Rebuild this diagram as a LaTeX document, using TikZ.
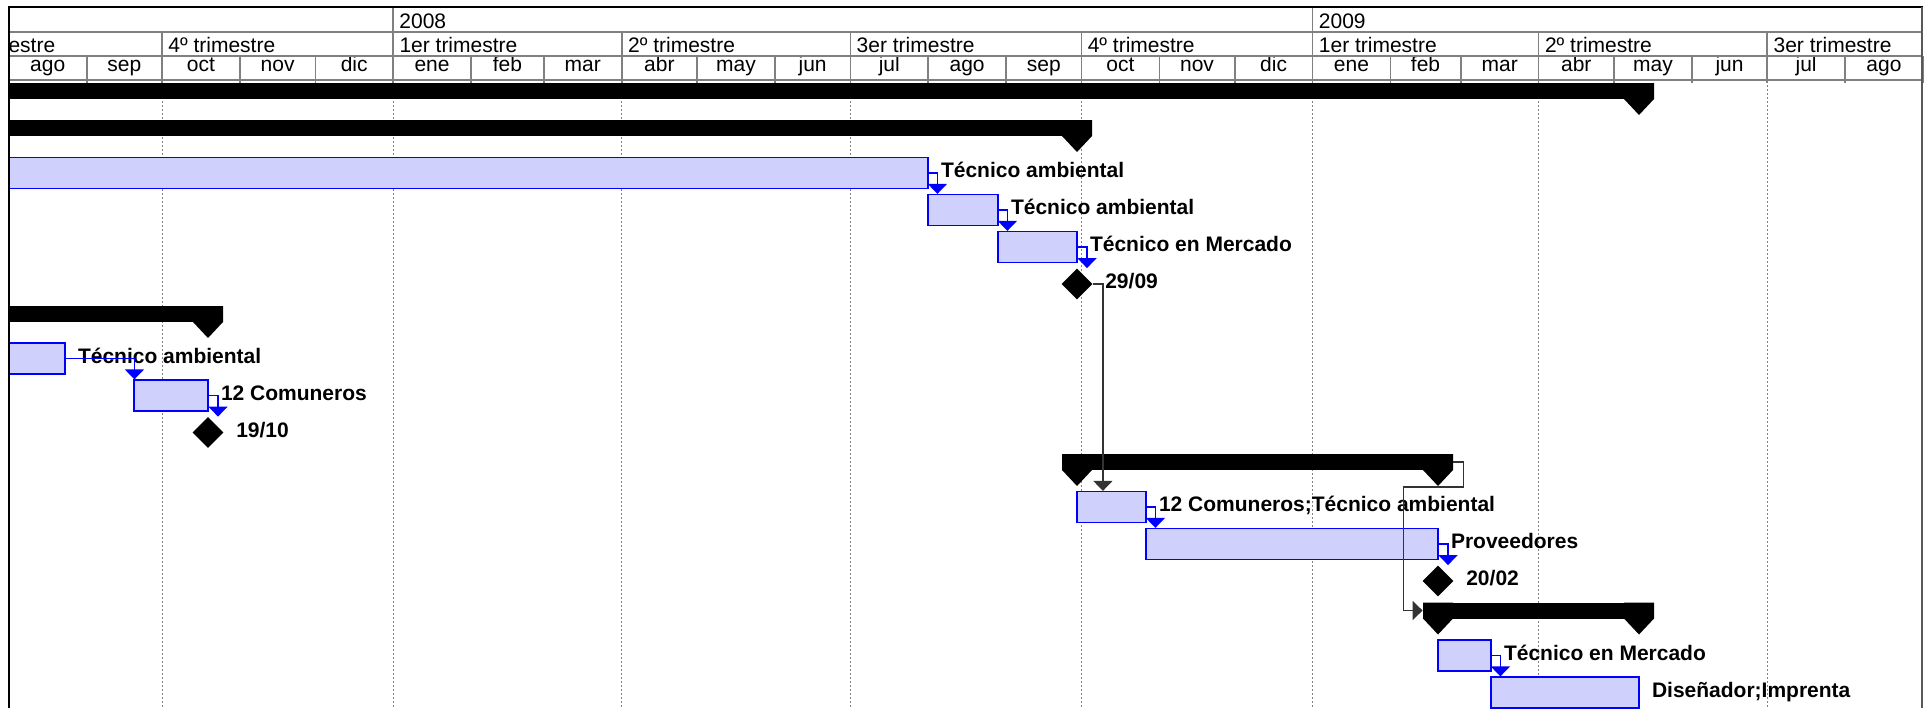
\documentclass[tikz,border=0pt]{standalone}
\usepackage{fontspec}
\setmainfont{Liberation Sans}
\usetikzlibrary{arrows.meta,shapes.geometric,fit}
\definecolor{gridgray}{gray}{.5}
\definecolor{taskblue}{RGB}{0,0,255}
\definecolor{taskfill}{RGB}{208,208,252}

\begin{document}
\begin{tikzpicture}[x=0.5pt,y=-0.5pt,
    every node/.style={font=\fontsize{10.5}{12}\selectfont},
    hdr/.style={inner sep=0pt,anchor=base west},
    mon/.style={inner sep=0pt,anchor=base},
    hline/.style={draw=gridgray,line width=0.8pt},
    task/.style={draw=taskblue,fill=taskfill,line width=0.6pt,inner sep=0pt},
    sumbar/.style={fill=black,inner sep=0pt},
    milestone/.style={diamond,fill=black,inner sep=0pt,minimum width=15.5pt,minimum height=15.5pt},
    lbl/.style={inner sep=0pt,anchor=base west,font=\fontsize{10.5}{12}\selectfont\bfseries},
    link/.style={draw=taskblue,line width=0.7pt,-{Triangle[width=9.5pt,length=5pt]}},
    blink/.style={draw=black!80,line width=0.7pt,-{Triangle[width=9.5pt,length=5pt]}},
    endmark/.pic={\fill (-15,0) -- (15,0) -- (15,16) -- (0,32) -- (-15,16) -- cycle;}]
  \fill[white] (0,0) rectangle (1927,708);
  \useasboundingbox (0,0) rectangle (1927,708);

  % timescale
  \begin{scope}
    \clip (9,7) rectangle (1922,80);
    \node[hdr] (y08) at (399,28.3) {2008};
    \node[hdr] (y09) at (1318.5,28.3) {2009};
    \foreach \x/\t [count=\i] in {-69/3er trimestre, 162/4º trimestre, 393.1/1er trimestre,
        621.7/2º trimestre, 850.3/3er trimestre, 1081.4/4º trimestre,
        1312.5/1er trimestre, 1538.6/2º trimestre, 1767.2/3er trimestre}
      \node[hdr] (q\i) at (\x+6,52.5) {\t};
  \end{scope}
  \foreach \a/\b/\m [count=\i] in {8.8/86.7/ago, 86.7/162/sep, 162/239.9/oct, 239.9/315.3/nov,
      315.3/393.1/dic, 393.1/471/ene, 471/543.9/feb, 543.9/621.7/mar, 621.7/697.1/abr,
      697.1/775/may, 775/850.3/jun, 850.3/928.2/jul, 928.2/1006.1/ago, 1006.1/1081.4/sep,
      1081.4/1159.3/oct, 1159.3/1234.7/nov, 1234.7/1312.5/dic, 1312.5/1390.4/ene,
      1390.4/1460.7/feb, 1460.7/1538.6/mar, 1538.6/1614/abr, 1614/1691.8/may,
      1691.8/1767.2/jun, 1767.2/1845/jul, 1845/1922.9/ago}
  {
    \node[mon] (mo\i) at ({(\a+\b)/2},71.5) {\m};
    \draw[hline] (\b,56) -- (\b,83);
  }
  \foreach \x in {393.1,1312.5}
    \draw[hline] (\x,7) -- (\x,32);
  \foreach \x in {162,393.1,621.7,850.3,1081.4,1312.5,1538.6,1767.2}
    \draw[hline] (\x,32) -- (\x,56);
  \foreach \y in {32,56,80}
    \draw[hline] (9,\y) -- (1922,\y);

  \begin{scope}
    \clip (9,80) rectangle (1922,708);
    \foreach \x in {162,393.1,621.7,850.3,1081.4,1312.5,1538.6,1767.2}
      \draw[gridgray,line width=0.5pt,dash pattern=on 1pt off 1pt] (\x,81) -- (\x,708);

    % bars
    \node[sumbar,fit={(-40,83) (1654,99)}] (s0) {};
    \pic at (1639,83) {endmark};
    \node[sumbar,fit={(-40,120) (1092,136)}] (s1) {};
    \pic at (1077,120) {endmark};
    \node[task,fit={(-20,157.5) (928,188.5)}] (t2) {};
    \node[task,fit={(928,194.5) (998,225.5)}] (t3) {};
    \node[task,fit={(998,231.5) (1077,262.5)}] (t4) {};
    \node[milestone] (m5) at (1077,284) {};
    \node[sumbar,fit={(-40,306) (223,322)}] (s6) {};
    \pic at (208,306) {endmark};
    \node[task,fit={(-20,343) (65,374)}] (t7) {};
    \node[task,fit={(134,380) (208,411)}] (t8) {};
    \node[milestone] (m9) at (208,432.5) {};
    \node[sumbar,fit={(1062,454) (1453,470)}] (s10) {};
    \pic at (1077,454) {endmark};
    \pic at (1438,454) {endmark};
    \node[task,fit={(1077,491.5) (1146,522.5)}] (t11) {};
    \node[task,fit={(1146,528.5) (1438,559.5)}] (t12) {};
    \node[milestone] (m13) at (1438,581) {};
    \node[sumbar,fit={(1423,602.5) (1654,618.5)}] (s14) {};
    \pic at (1438,602.5) {endmark};
    \pic at (1639,602.5) {endmark};
    \node[task,fit={(1438,640) (1491,671)}] (t15) {};
    \node[task,fit={(1491,677) (1639,708)}] (t16) {};

    % resources
    \node[lbl] (l2) at ([xshift=6pt,yshift=-2.25pt]t2.east) {Técnico ambiental};
    \node[lbl] (l3) at ([xshift=6pt,yshift=-2.25pt]t3.east) {Técnico ambiental};
    \node[lbl] (l4) at ([xshift=6pt,yshift=-2.25pt]t4.east) {Técnico en Mercado};
    \node[lbl] (l5) at ([xshift=6pt,yshift=-2.25pt]m5.east) {29/09};
    \node[lbl] (l7) at ([xshift=6pt,yshift=-2.25pt]t7.east) {Técnico ambiental};
    \node[lbl] (l8) at ([xshift=6pt,yshift=-2.25pt]t8.east) {12 Comuneros};
    \node[lbl] (l9) at ([xshift=6pt,yshift=-2.25pt]m9.east) {19/10};
    \node[lbl] (l11) at ([xshift=6pt,yshift=-2.25pt]t11.east) {12 Comuneros;Técnico ambiental};
    \node[lbl] (l12) at ([xshift=6pt,yshift=-2.25pt]t12.east) {Proveedores};
    \node[lbl] (l13) at ([xshift=6pt,yshift=-2.25pt]m13.east) {20/02};
    \node[lbl] (l15) at ([xshift=6pt,yshift=-2.25pt]t15.east) {Técnico en Mercado};
    \node[lbl] (l16) at ([xshift=6pt,yshift=-2.25pt]t16.east) {Diseñador;Imprenta};

    % links
    \draw[link] (t2.east) -| ([xshift=5pt]t3.north west);
    \draw[link] (t3.east) -| ([xshift=5pt]t4.north west);
    \draw[link] (t4.east) -| ([xshift=5pt]m5.north);
    \draw[link] (t7.east) -| ([xshift=0.5pt]t8.north west);
    \draw[link] (t8.east) -| ([xshift=5pt]m9.north);
    \draw[link] (t11.east) -| ([xshift=5pt]t12.north west);
    \draw[link] (t12.east) -| ([xshift=5pt]m13.north);
    \draw[link] (t15.east) -| ([xshift=5pt]t16.north west);
    \draw[blink] (m5.east) -- ++(10,0) coordinate (m5out) -- (m5out |- t11.north);
    \draw[blink] (s10.east) -- ++(10,0) -- ++(0,25) -- ++(-60,0) |- (s14.west);
  \end{scope}

  % frame
  \draw[line width=1.2pt] (9,7) -- (1922.5,7);
  \draw[line width=1.2pt] (9,6.4) -- (9,708);
  \draw[gridgray!70!black,line width=1.2pt] (1922,7) -- (1922,708);
\end{tikzpicture}
\end{document}
